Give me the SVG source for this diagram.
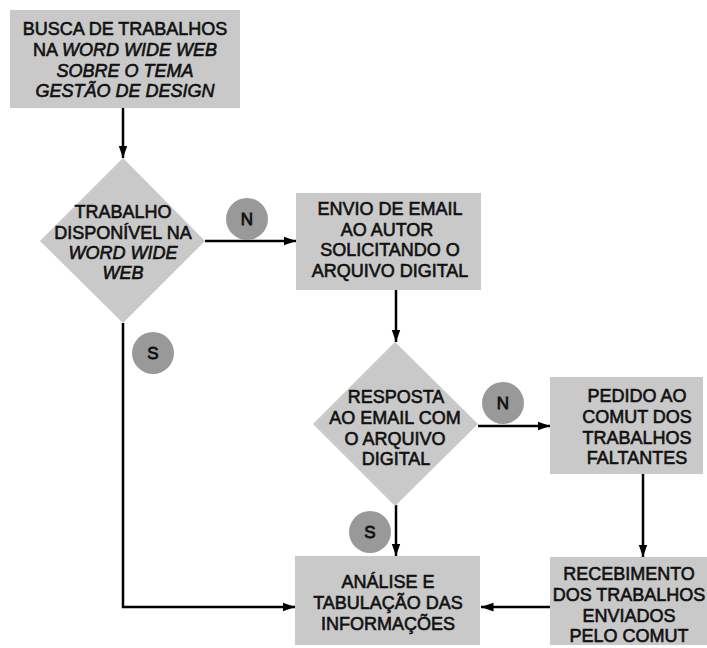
<svg xmlns="http://www.w3.org/2000/svg" width="707" height="648" viewBox="0 0 707 648">
<defs>
<style>
.box{fill:#c9c9c9;}
.dec{fill:#c9c9c9;}
.circ{fill:#999999;}
.t{font-family:"Liberation Sans",Arial,sans-serif;font-size:18px;fill:#111;stroke:#111;stroke-width:0.6;text-anchor:middle;}
.i{font-style:italic;}
.lbl{font-family:"Liberation Sans",Arial,sans-serif;font-size:17px;fill:#111;stroke:#111;stroke-width:0.8;text-anchor:middle;}
.ln{fill:none;stroke:#000;stroke-width:2.5;}
</style>
<marker id="ah" viewBox="0 0 10 10" refX="10" refY="5" markerWidth="5" markerHeight="5" markerUnits="strokeWidth" orient="auto">
<path d="M0,1.5 L10,5 L0,8.5 Z" fill="#000"/>
</marker>
</defs>
<rect width="707" height="648" fill="#fff"/>
<g id="connectors">
<line class="ln" x1="123" y1="108" x2="123" y2="158" marker-end="url(#ah)"/>
<line class="ln" x1="205" y1="241" x2="296" y2="241" marker-end="url(#ah)"/>
<line class="ln" x1="396" y1="290" x2="396" y2="342" marker-end="url(#ah)"/>
<line class="ln" x1="478" y1="426" x2="550" y2="426" marker-end="url(#ah)"/>
<line class="ln" x1="396" y1="505" x2="396" y2="556" marker-end="url(#ah)"/>
<line class="ln" x1="643" y1="474" x2="643" y2="557" marker-end="url(#ah)"/>
<line class="ln" x1="550" y1="607" x2="481" y2="607" marker-end="url(#ah)"/>
<polyline class="ln" points="123,323 123,607 295,607" marker-end="url(#ah)"/>
</g>
<g id="n1">
<rect class="box" x="10" y="10" width="230" height="98"/>
<text class="t" x="125" y="35">BUSCA DE TRABALHOS</text>
<text class="t" x="125" y="56">NA <tspan class="i">WORD WIDE WEB</tspan></text>
<text class="t i" x="125" y="76.5">SOBRE O TEMA</text>
<text class="t i" x="125" y="97">GESTÃO DE DESIGN</text>
</g>
<g id="d1">
<polygon class="dec" points="123,158 205,241 123,323 40,241"/>
<text class="t" x="123" y="218">TRABALHO</text>
<text class="t" x="123" y="238.5">DISPONÍVEL NA</text>
<text class="t i" x="123" y="259">WORD WIDE</text>
<text class="t i" x="123" y="279">WEB</text>
</g>
<g id="n2">
<rect class="box" x="296" y="193" width="185" height="97"/>
<text class="t" x="390" y="215">ENVIO DE EMAIL</text>
<text class="t" x="387" y="235.5">AO AUTOR</text>
<text class="t" x="390" y="256">SOLICITANDO O</text>
<text class="t" x="390" y="277">ARQUIVO DIGITAL</text>
</g>
<g id="d2">
<polygon class="dec" points="395,342 478,424 395,506 313,424"/>
<text class="t" x="396" y="403">RESPOSTA</text>
<text class="t" x="395" y="424">AO EMAIL COM</text>
<text class="t" x="395" y="444.5">O ARQUIVO</text>
<text class="t" x="396" y="465">DIGITAL</text>
</g>
<g id="n3">
<rect class="box" x="550" y="377" width="153" height="97"/>
<text class="t" x="637" y="402">PEDIDO AO</text>
<text class="t" x="637" y="423">COMUT DOS</text>
<text class="t" x="637" y="443.5">TRABALHOS</text>
<text class="t" x="637" y="464">FALTANTES</text>
</g>
<g id="n4">
<rect class="box" x="295" y="556" width="185" height="89"/>
<text class="t" x="388" y="588">ANÁLISE E</text>
<text class="t" x="388" y="609">TABULAÇÃO DAS</text>
<text class="t" x="388" y="630">INFORMAÇÕES</text>
</g>
<g id="n5">
<rect class="box" x="550" y="557" width="157" height="88"/>
<text class="t" x="629" y="580">RECEBIMENTO</text>
<text class="t" x="629" y="601">DOS TRABALHOS</text>
<text class="t" x="629" y="622">ENVIADOS</text>
<text class="t" x="629" y="642">PELO COMUT</text>
</g>
<g id="lN1">
<circle class="circ" cx="247" cy="219" r="21"/>
<text class="lbl" x="247" y="225">N</text>
</g>
<g id="lS1">
<circle class="circ" cx="153" cy="353" r="21"/>
<text class="lbl" x="153" y="359">S</text>
</g>
<g id="lN2">
<circle class="circ" cx="503" cy="403" r="21"/>
<text class="lbl" x="503" y="409">N</text>
</g>
<g id="lS2">
<circle class="circ" cx="370" cy="532" r="21"/>
<text class="lbl" x="370" y="538">S</text>
</g>
</svg>
